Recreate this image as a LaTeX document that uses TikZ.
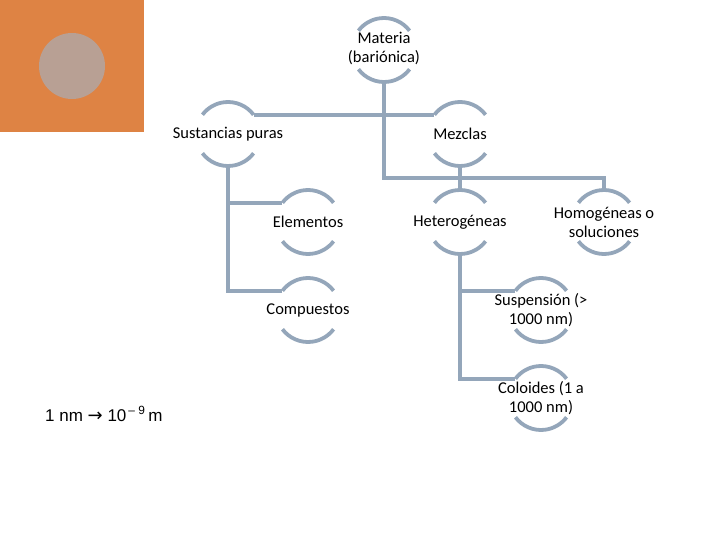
\documentclass[tikz,border=0pt]{standalone}
\usepackage{fontspec}
\setmainfont{Carlito}
\newfontfamily\arialfont{Liberation Sans}
\newfontfamily\symfont{DejaVu Sans}
\definecolor{lineblue}{HTML}{94A6BA}
\definecolor{orangebg}{HTML}{DE8344}
\definecolor{dotgray}{HTML}{B8A094}
\begin{document}
\begin{tikzpicture}[x=1pt,y=-1pt,
  ring/.style={circle,minimum size=64pt,inner sep=0pt,outer sep=0pt},
  lbl/.style={align=center,font=\fontsize{16.5}{19}\selectfont,inner sep=0pt},
  conn/.style={draw=lineblue,line width=3.8pt},
  arcstyle/.style={draw=lineblue,line width=3.8pt}]
\useasboundingbox (0,0) rectangle (720,540);
\fill[orangebg] (0,0) rectangle (144,132);
\fill[dotgray] (72,66) circle[radius=33pt];
% ring placeholders
\foreach \n/\x/\y in {m/384/50, sp/228/134, mz/460/134, el/308/222, ht/460/222, ho/604/222, co/308/310, su/541/310, cl/541/398}{
  \node[ring] (\n) at (\x,\y) {};
  \draw[arcstyle] (\n.37) arc[start angle=37,end angle=143,radius=32pt];
  \draw[arcstyle] (\n.217) arc[start angle=217,end angle=323,radius=32pt];
}
\node[lbl] (tm) at ([yshift=2pt]m) {Materia\\(bariónica)};
\node[lbl] (tsp) at (sp) {Sustancias puras};
\node[lbl] (tmz) at (mz) {Mezclas};
\node[lbl] (tel) at (el) {Elementos};
\node[lbl] (tht) at (ht) {Heterogéneas};
\node[lbl] (tho) at (ho) {Homogéneas o\\soluciones};
\node[lbl] (tco) at (co) {Compuestos};
\node[lbl] (tsu) at (su) {Suspensión (>\\1000 nm)};
\node[lbl] (tcl) at (cl) {Coloides (1 a\\1000 nm)};
% connectors
\coordinate (j1) at (384,178);
\draw[conn] (sp.37) -- (mz.143);
\draw[conn] (m.south) -- (j1) -| (ho.north);
\draw[conn] (mz.south) -- (ht.north);
\draw[conn] (sp.south) |- (el.143);
\draw[conn] (sp.south) |- (co.143);
\draw[conn] (ht.south) |- (su.143);
\draw[conn] (ht.south) |- (cl.143);
% note
\node[anchor=west,inner sep=0pt,font=\arialfont\fontsize{17}{20}\selectfont] (note) at (45,414)
  {1 nm {\symfont\fontsize{18}{20}\selectfont →} 10\textsuperscript{\,– 9}\,m};
\end{tikzpicture}
\end{document}
